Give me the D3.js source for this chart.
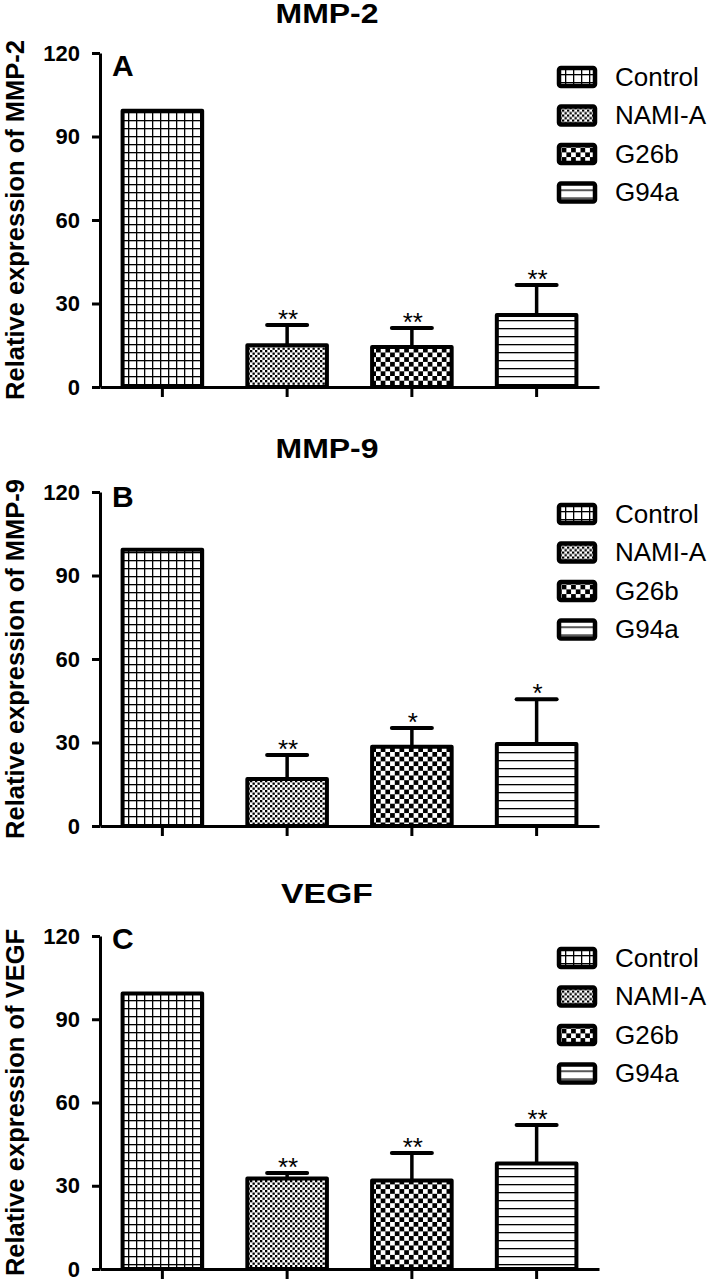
<!DOCTYPE html>
<html>
<head>
<meta charset="utf-8">
<script src="https://cdn.jsdelivr.net/npm/d3@7"></script>
<style>
  html, body { margin: 0; padding: 0; background: #fff; }
  svg { display: block; }
  text { font-family: "Liberation Sans", Arial, Helvetica, sans-serif; fill: #000; }
</style>
</head>
<body>
<svg id="chart" width="709" height="1284"></svg>
<script>
// ---------------- data ----------------
const categories = ["Control", "NAMI-A", "G26b", "G94a"];
const yTicks = [0, 30, 60, 90, 120];

const panelTitles = ["MMP-2", "MMP-9", "VEGF"];
const panelLetters = ["A", "B", "C"];
const yLabels = ["Relative expression of MMP-2", "Relative expression of MMP-9", "Relative expression of VEGF"];

const mmp2Mean = [100, 15.7, 15.1, 26.6];
const mmp2Err  = [0, 7.3, 6.8, 10.8];
const mmp2Sig  = ["", "**", "**", "**"];

const mmp9Mean = [100, 17.6, 29.2, 30.2];
const mmp9Err  = [0, 8.6, 6.7, 16.1];
const mmp9Sig  = ["", "**", "*", "*"];

const vegfMean = [100, 33.3, 32.6, 38.7];
const vegfErr  = [0, 2.0, 9.9, 13.9];
const vegfSig  = ["", "**", "**", "**"];

const seriesMeans = [mmp2Mean, mmp9Mean, vegfMean];
const seriesErrs  = [mmp2Err, mmp9Err, vegfErr];
const seriesSigs  = [mmp2Sig, mmp9Sig, vegfSig];

// ---------------- layout ----------------
const panelTop    = [53, 492, 936];
const panelBottom = [387, 826, 1269];
const titleBase   = [23, 458, 903];
const titleWidth  = [103, 103, 92];
const letterBase  = [76, 507, 949];
const legendTop   = [66, 503, 947];
const legendStep  = 38.5;
const axisLeft = 100, axisRight = 599;

const svg = d3.select("#chart");
svg.append("rect").attr("width", 709).attr("height", 1284).attr("fill", "#fff");

// ---------------- patterns ----------------
const defs = svg.append("defs");
const patIds = ["pGrid", "pFine", "pCheck", "pLines"];
let p = defs.append("pattern").attr("id", "pGrid").attr("patternUnits", "userSpaceOnUse")
  .attr("width", 8).attr("height", 8);
p.append("rect").attr("width", 8).attr("height", 8).attr("fill", "#fff");
p.append("rect").attr("x", 0).attr("y", 0).attr("width", 1.3).attr("height", 8).attr("fill", "#000");
p.append("rect").attr("x", 0).attr("y", 0).attr("width", 8).attr("height", 1.3).attr("fill", "#000");
p = defs.append("pattern").attr("id", "pFine").attr("patternUnits", "userSpaceOnUse")
  .attr("width", 5).attr("height", 5);
p.append("rect").attr("width", 5).attr("height", 5).attr("fill", "#fff");
p.append("rect").attr("x", 0).attr("y", 0).attr("width", 2.3).attr("height", 2.3).attr("fill", "#000");
p.append("rect").attr("x", 2.5).attr("y", 2.5).attr("width", 2.3).attr("height", 2.3).attr("fill", "#000");
p = defs.append("pattern").attr("id", "pCheck").attr("patternUnits", "userSpaceOnUse")
  .attr("width", 9.4).attr("height", 9.4);
p.append("rect").attr("width", 9.4).attr("height", 9.4).attr("fill", "#fff");
p.append("rect").attr("x", 0).attr("y", 0).attr("width", 4.7).attr("height", 4.7).attr("fill", "#000");
p.append("rect").attr("x", 4.7).attr("y", 4.7).attr("width", 4.7).attr("height", 4.7).attr("fill", "#000");
p = defs.append("pattern").attr("id", "pLines").attr("patternUnits", "userSpaceOnUse")
  .attr("width", 10).attr("height", 8);
p.append("rect").attr("width", 10).attr("height", 8).attr("fill", "#fff");
p.append("rect").attr("x", 0).attr("y", 0).attr("width", 10).attr("height", 1.3).attr("fill", "#000");

// ---------------- panels ----------------
const x = d3.scaleBand().domain(categories).range([axisLeft, axisRight])
  .paddingInner(0.33).paddingOuter(0.165);

for (let k = 0; k < 3; k++) {
  const g = svg.append("g");
  const y = d3.scaleLinear().domain([0, 120]).range([panelBottom[k], panelTop[k]]);
  const means = seriesMeans[k], errs = seriesErrs[k], sigs = seriesSigs[k];
  const rows = categories.map((c, i) => ({ c, m: means[i], e: errs[i], s: sigs[i], pat: patIds[i] }));

  // bars
  g.selectAll("rect.bar").data(rows).enter().append("rect")
    .attr("class", "bar")
    .attr("x", d => x(d.c) + 2)
    .attr("width", x.bandwidth() - 4)
    .attr("y", d => y(d.m) + 2)
    .attr("height", d => y(0) - y(d.m) - 2)
    .attr("fill", d => `url(#${d.pat})`)
    .attr("stroke", "#000").attr("stroke-width", 4).attr("stroke-linejoin", "round");

  // error bars (upper only)
  const eb = rows.filter(d => d.e > 0);
  g.selectAll("line.stem").data(eb).enter().append("line")
    .attr("x1", d => x(d.c) + x.bandwidth() / 2).attr("x2", d => x(d.c) + x.bandwidth() / 2)
    .attr("y1", d => y(d.m) + 2).attr("y2", d => y(d.m + d.e) + 2)
    .attr("stroke", "#000").attr("stroke-width", 3.5);
  g.selectAll("line.cap").data(eb).enter().append("line")
    .attr("x1", d => x(d.c) + x.bandwidth() / 2 - 20).attr("x2", d => x(d.c) + x.bandwidth() / 2 + 20)
    .attr("y1", d => y(d.m + d.e) + 2).attr("y2", d => y(d.m + d.e) + 2)
    .attr("stroke", "#000").attr("stroke-width", 4).attr("stroke-linecap", "round");

  // significance stars
  g.selectAll("text.sig").data(rows.filter(d => d.s)).enter().append("text")
    .attr("x", d => x(d.c) + x.bandwidth() / 2 + 1)
    .attr("y", d => y(d.m + d.e) + 5)
    .attr("text-anchor", "middle")
    .attr("font-size", 26)
    .text(d => d.s);

  // y axis
  const ya = g.append("g").attr("transform", `translate(${axisLeft},0)`)
    .call(d3.axisLeft(y).tickValues(yTicks).tickSize(8).tickSizeOuter(0).tickPadding(12));
  ya.attr("font-size", 22).attr("font-weight", "bold")
    .attr("font-family", "'Liberation Sans', Arial, sans-serif");
  ya.select(".domain").attr("stroke", "#000").attr("stroke-width", 3);
  ya.selectAll(".tick line").attr("stroke", "#000").attr("stroke-width", 3);
  ya.selectAll(".tick text").attr("font-size", 22).attr("font-weight", "bold").attr("fill", "#000");

  // x axis
  const xa = g.append("g").attr("transform", `translate(0,${panelBottom[k]})`)
    .call(d3.axisBottom(x).tickSize(10).tickSizeOuter(0).tickFormat(""));
  xa.select(".domain").attr("stroke", "#000").attr("stroke-width", 3);
  xa.selectAll(".tick line").attr("stroke", "#000").attr("stroke-width", 3);

  // y label
  g.append("text")
    .attr("transform", `translate(24,${(panelTop[k] + panelBottom[k]) / 2}) rotate(-90)`)
    .attr("text-anchor", "middle")
    .attr("font-size", 25.5).attr("font-weight", "bold")
    .text(yLabels[k]);

  // title
  g.append("text")
    .attr("x", 327 - titleWidth[k] / 2).attr("y", titleBase[k])
    .attr("font-size", 27).attr("font-weight", "bold")
    .attr("textLength", titleWidth[k]).attr("lengthAdjust", "spacingAndGlyphs")
    .text(panelTitles[k]);

  // panel letter
  g.append("text")
    .attr("x", 112).attr("y", letterBase[k])
    .attr("font-size", 30).attr("font-weight", "bold")
    .text(panelLetters[k]);

  // legend
  const items = g.append("g").selectAll("g.item").data(rows).enter().append("g")
    .attr("transform", (d, i) => `translate(557,${legendTop[k] + i * legendStep})`);
  items.append("rect")
    .attr("x", 2).attr("y", 2).attr("width", 36).attr("height", 18).attr("rx", 2)
    .attr("fill", d => `url(#${d.pat})`)
    .attr("stroke", "#000").attr("stroke-width", 4.5);
  items.append("text")
    .attr("x", 58).attr("y", 19.5)
    .attr("font-size", 26)
    .text(d => d.c);
}
</script>
</body>
</html>
